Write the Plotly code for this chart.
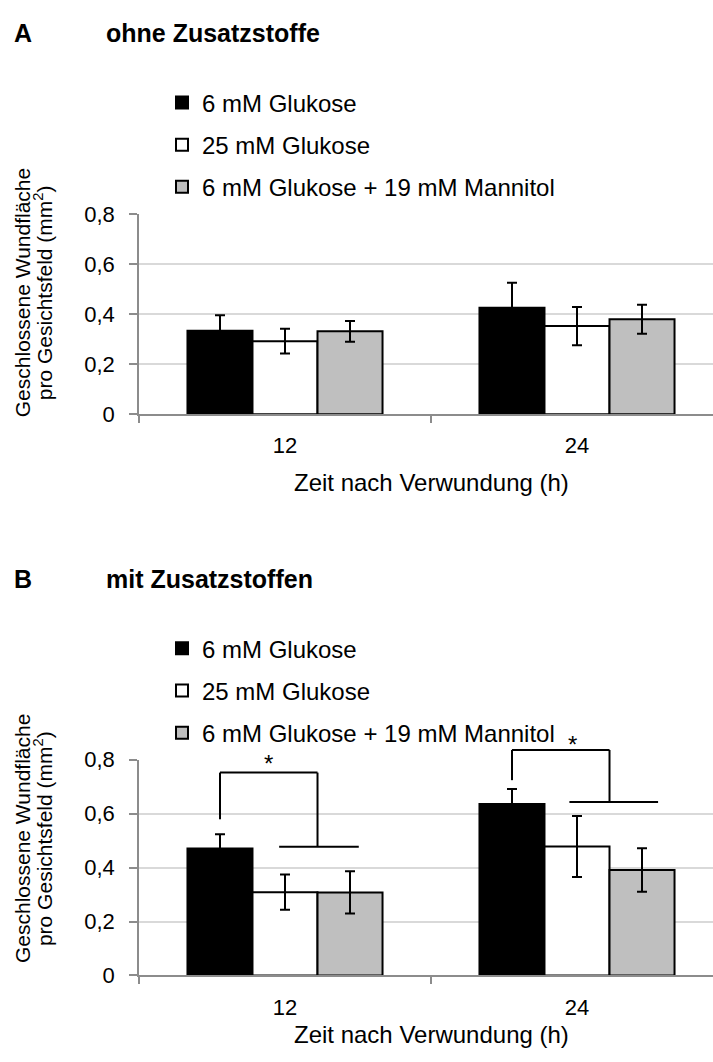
import plotly.graph_objects as go

# Zeitpunkte nach Verwundung (h)
categories = ["12", "24"]
series_names = ["6 mM Glukose", "25 mM Glukose", "6 mM Glukose + 19 mM Mannitol"]
series_colors = ["#000000", "#ffffff", "#bfbfbf"]

# A: ohne Zusatzstoffe – Mittelwerte und Fehler (mm²)
a_glc6 = [0.333, 0.425]
a_glc6_err = [0.062, 0.100]
a_glc25 = [0.292, 0.352]
a_glc25_err = [0.049, 0.076]
a_mannitol = [0.331, 0.379]
a_mannitol_err = [0.041, 0.058]

# B: mit Zusatzstoffen – Mittelwerte und Fehler (mm²)
b_glc6 = [0.471, 0.636]
b_glc6_err = [0.053, 0.055]
b_glc25 = [0.309, 0.478]
b_glc25_err = [0.065, 0.113]
b_mannitol = [0.308, 0.391]
b_mannitol_err = [0.078, 0.081]

# Signifikanzklammern in B (Werte in mm²)
bracket_cat = [0, 1]
bracket_left_start = [0.579, 0.724]
bracket_top = [0.752, 0.836]
bracket_right_end = [0.477, 0.643]
star_y = [0.784, 0.857]

FONT = "Liberation Sans, Arial, sans-serif"
W, H = 713, 1062
BARGAP = 0.332
Y_MAX = 0.8
AXIS_GRAY = "#8c8c8c"
GRID = "#d9d9d9"

fig = go.Figure()

panels = [
    ("x", "y", "legend", [(a_glc6, a_glc6_err), (a_glc25, a_glc25_err), (a_mannitol, a_mannitol_err)]),
    ("x2", "y2", "legend2", [(b_glc6, b_glc6_err), (b_glc25, b_glc25_err), (b_mannitol, b_mannitol_err)]),
]
for xa, ya, lg, data in panels:
    for i, (vals, errs) in enumerate(data):
        fig.add_trace(go.Bar(
            x=categories, y=vals, name=series_names[i],
            xaxis=xa, yaxis=ya, legend=lg, legendgroup=f"{lg}-{i}",
            marker=dict(color=series_colors[i], line=dict(color="black", width=2)),
            error_y=dict(type="data", array=errs, color="black", thickness=2, width=5),
        ))

x_left = 139 / W
x_range = [-0.5, -0.5 + (W - 139) / 292]

def xaxis_cfg():
    return dict(
        domain=[x_left, 1], type="category", range=x_range,
        tickson="boundaries", ticks="outside", ticklen=7, tickwidth=1.5, tickcolor=AXIS_GRAY,
        showline=True, linecolor=AXIS_GRAY, linewidth=1.5, showgrid=False,
        tickfont=dict(family=FONT, size=22, color="black"), ticklabelstandoff=11,
    )

def yaxis_cfg(dom, anchor):
    return dict(
        domain=dom, anchor=anchor, range=[0, Y_MAX], tick0=0, dtick=0.2,
        ticks="outside", ticklen=8, tickwidth=1.5, tickcolor=AXIS_GRAY,
        showline=True, linecolor=AXIS_GRAY, linewidth=1.5,
        showgrid=True, gridcolor=GRID, gridwidth=1.5, zeroline=False,
        tickfont=dict(family=FONT, size=22, color="black"), ticklabelstandoff=10,
    )

yA = [1 - 412 / H, 1 - 206.7 / H]
yB = [1 - 986.7 / H, 1 - 765.7 / H]

legend_style = dict(x=162 / W, xanchor="left", yanchor="top",
                    traceorder="grouped", tracegroupgap=8, bgcolor="rgba(0,0,0,0)",
                    font=dict(family=FONT, size=24, color="black"))

fig.update_layout(
    width=W, height=H, autosize=False,
    margin=dict(l=0, r=0, t=0, b=0),
    paper_bgcolor="white", plot_bgcolor="white",
    separators=",.",
    barmode="group", bargap=BARGAP, bargroupgap=0,
    xaxis=dict(**xaxis_cfg(), anchor="y"),
    yaxis=yaxis_cfg(yA, "x"),
    xaxis2=dict(**xaxis_cfg(), anchor="y2"),
    yaxis2=yaxis_cfg(yB, "x2"),
    legend=dict(**legend_style, y=1 - 70 / H),
    legend2=dict(**legend_style, y=1 - (70 + 559) / H),
)

annotations = []
# Panel-Beschriftungen
for label, title, yc in [("A", "ohne Zusatzstoffe", 22), ("B", "mit Zusatzstoffen", 581)]:
    annotations.append(dict(text=f"<b>{label}</b>", x=12 / W, y=1 - yc / H, xref="paper", yref="paper",
                            xanchor="left", yanchor="middle", showarrow=False,
                            font=dict(family=FONT, size=25, color="black")))
    annotations.append(dict(text=f"<b>{title}</b>", x=104 / W, y=1 - yc / H, xref="paper", yref="paper",
                            xanchor="left", yanchor="middle", showarrow=False,
                            font=dict(family=FONT, size=25, color="black")))

# Achsentitel
for xa, yc_title, yc_x in [("x", 288, 482), ("x2", 847, 1047)]:
    for line_text, xc in [("Geschlossene Wundfläche", 22), ("pro Gesichtsfeld (mm<sup>2</sup>)", 43)]:
        annotations.append(dict(text=line_text, x=xc / W, y=1 - yc_title / H,
                                xref="paper", yref="paper", xanchor="center", yanchor="middle",
                                textangle=-90, showarrow=False,
                                font=dict(family=FONT, size=21, color="black")))
    annotations.append(dict(text="Zeit nach Verwundung (h)", x=0.5, y=1 - yc_x / H,
                            xref=xa, yref="paper", xanchor="center", yanchor="middle",
                            showarrow=False, font=dict(family=FONT, size=24, color="black")))

# Signifikanzklammern in B (y als Anteil der Achsenhöhe, damit sie über 0,8 hinausragen dürfen)
bar_w = (1 - BARGAP) / 3
shapes = []
line = dict(color="black", width=2)
for k, c in enumerate(bracket_cat):
    xl = c - bar_w
    xr = c + bar_w / 2
    lo_l = c - 0.02 - (0.006 if k else 0)
    lo_r = c + bar_w + 0.03 + (0.025 if k else 0)
    segs = [
        (xl, bracket_left_start[k], xl, bracket_top[k]),
        (xl, bracket_top[k], xr, bracket_top[k]),
        (xr, bracket_top[k], xr, bracket_right_end[k]),
        (lo_l, bracket_right_end[k], lo_r, bracket_right_end[k]),
    ]
    for x0, y0, x1, y1 in segs:
        shapes.append(dict(type="line", xref="x2", yref="y2 domain",
                           x0=x0, y0=y0 / Y_MAX, x1=x1, y1=y1 / Y_MAX, line=line))
    annotations.append(dict(text="*", x=(xl + xr) / 2 + (0.04 if k else 0), y=star_y[k] / Y_MAX,
                            xref="x2", yref="y2 domain", xanchor="center", yanchor="middle",
                            showarrow=False, font=dict(family=FONT, size=24, color="black")))

fig.update_layout(annotations=annotations, shapes=shapes)

fig.write_html("out.html")
